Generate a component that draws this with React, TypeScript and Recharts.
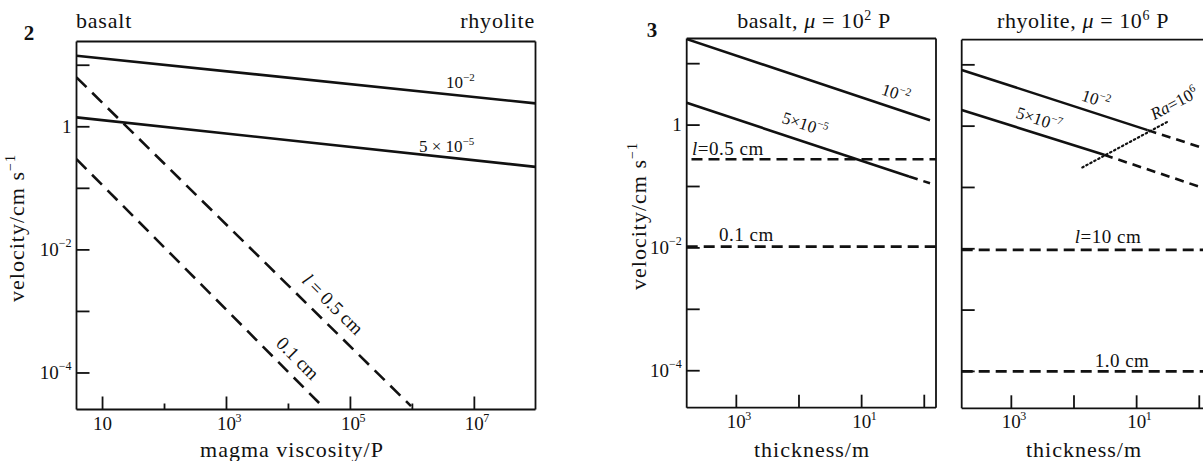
import { LineChart, Line, XAxis, YAxis } from 'recharts';

const FONT = "'Liberation Serif', 'Times New Roman', serif";
const INK = '#111';

// fig 2: velocity vs magma viscosity
const viscDomain = [3.8, 9.7e7];
const vel2Domain = [2.55e-5, 24.3];
const viscTicks = [10, 1e2, 1e3, 1e4, 1e5, 1e6, 1e7];
const viscTickLabels = ['10', '', '10^3', '', '10^5', '', '10^7'];
const velTicks = [10, 1, 0.1, 0.01, 1e-3, 1e-4];
const velTickLabels = ['', '1', '', '10^\u22122', '', '10^\u22124'];

const viscEnds = [3.8, 9.7e7];
const velGrad2 = [14.3, 2.4]; // 10^-2
const velGrad5 = [1.42, 0.223]; // 5 x 10^-5
const viscL05 = [3.8, 9.5e5];
const velL05 = [6.35, 2.9e-5];
const viscL01 = [3.8, 3.5e4];
const velL01 = [0.298, 2.9e-5];

// fig 3: velocity vs thickness (basalt, rhyolite)
const thickDomain = [0.65, 6200];
const vel3Domain = [2.5e-5, 25.7];
const thickTicks = [1e3, 1e2, 10, 1];
const thickTickLabels = ['10^3', '', '10^1', ''];
const noLabels = ['', '', '', '', '', ''];

const thickB2 = [6200, 0.81];
const velB2 = [25.1, 1.2];
const thickB5 = [6200, 1.75];
const velB5 = [2.31, 0.145];
const thickB5Dash = [1.75, 0.81];
const velB5Dash = [0.145, 0.113];
const thickBL05 = [5200, 0.65];
const velBL05 = [0.277, 0.277];
const thickBL01 = [6200, 0.65];
const velBL01 = [0.0105, 0.0105];

const thickR2 = [6200, 6.68];
const velR2 = [8.26, 0.861];
const thickR2Dash = [6.68, 0.81];
const velR2Dash = [0.861, 0.43];
const thickR7 = [6200, 33.1];
const velR7 = [1.84, 0.341];
const thickR7Dash = [33.1, 1.0];
const velR7Dash = [0.341, 0.103];
const thickRa = [73.6, 3.01];
const velRa = [0.212, 1.22];
const thickRL = [6200, 0.65];
const velRL10 = [0.0096, 0.0096];
const velRL1 = [1e-4, 1e-4];

const pts = (xs: number[], ys: number[]) => xs.map((x, i) => ({ x, y: ys[i] }));

type Series = { data: { x: number; y: number }[]; dash?: string; dotted?: boolean };

const splitSup = (s: string) => s.split('^');

function Panel(props: any) {
  const { width, height, plot, xDomain, yDomain, xTicks, xLabels, minorLen, yTicks, yLabels, reversed, series } = props;
  // plot = [left, top, right, bottom] of the frame inside this chart
  const margin = {
    left: plot[0] - 1,
    top: plot[1] - 1,
    right: width - plot[2] - 1,
    bottom: height - plot[3] - 1,
  };

  const xTick = (p: any) => {
    const { x, y, payload } = p;
    const i = xTicks.indexOf(payload.value);
    const label = xLabels[i] || '';
    const len = label ? 13 : minorLen;
    const [base, sup] = splitSup(label);
    return (
      <g>
        <line x1={x} y1={y} x2={x} y2={y - len} stroke={INK} strokeWidth={1.8} />
        {label && (
          <text x={x} y={y + 20} textAnchor="middle" fontSize={19} fontFamily={FONT} fill={INK}>
            {base}
          </text>
        )}
        {sup && (
          <text x={x + 9} y={y + 12} fontSize={12} fontFamily={FONT} fill={INK}>
            {sup}
          </text>
        )}
      </g>
    );
  };

  const yTick = (p: any) => {
    const { x, y, payload } = p;
    const i = yTicks.indexOf(payload.value);
    const label = yLabels[i] || '';
    const [base, sup] = splitSup(label);
    return (
      <g>
        <line x1={x} y1={y} x2={x + 13} y2={y} stroke={INK} strokeWidth={1.8} />
        {label && (
          <text x={x - 5} y={y + 6} textAnchor="end" fontSize={19} fontFamily={FONT} fill={INK}>
            {base}
            {sup && (
              <tspan dy={-9} fontSize={12}>
                {sup}
              </tspan>
            )}
          </text>
        )}
      </g>
    );
  };

  const frame = { stroke: INK, strokeWidth: 1.8 };

  return (
    <LineChart width={width} height={height} margin={margin}>
      <XAxis
        dataKey="x"
        type="number"
        scale="log"
        domain={xDomain}
        allowDataOverflow
        reversed={reversed}
        ticks={xTicks}
        interval={0}
        tickLine={false}
        tickSize={0}
        tickMargin={0}
        height={1}
        axisLine={frame}
        tick={xTick}
      />
      <XAxis
        xAxisId="top"
        orientation="top"
        type="number"
        scale="log"
        domain={xDomain}
        allowDataOverflow
        tick={false}
        tickLine={false}
        height={1}
        axisLine={frame}
      />
      <YAxis
        dataKey="y"
        type="number"
        scale="log"
        domain={yDomain}
        allowDataOverflow
        ticks={yTicks}
        interval={0}
        tickLine={false}
        tickSize={0}
        tickMargin={0}
        width={1}
        axisLine={frame}
        tick={yTick}
      />
      <YAxis
        yAxisId="right"
        orientation="right"
        type="number"
        scale="log"
        domain={yDomain}
        allowDataOverflow
        tick={false}
        tickLine={false}
        width={1}
        axisLine={frame}
      />
      {series.map((s: Series, i: number) => (
        <Line
          key={i}
          data={s.data}
          dataKey="y"
          type="linear"
          stroke={INK}
          strokeWidth={s.dotted ? 2.2 : 2.6}
          strokeDasharray={s.dotted ? '1.5 3' : s.dash}
          strokeLinecap={s.dotted ? 'round' : 'butt'}
          dot={false}
          activeDot={false}
          isAnimationActive={false}
        />
      ))}
    </LineChart>
  );
}

const series2: Series[] = [
  { data: pts(viscEnds, velGrad2) },
  { data: pts(viscEnds, velGrad5) },
  { data: pts(viscL05, velL05), dash: '14 8' },
  { data: pts(viscL01, velL01), dash: '14 8' },
];

const seriesB: Series[] = [
  { data: pts(thickB2, velB2) },
  { data: pts(thickB5, velB5) },
  { data: pts(thickB5Dash, velB5Dash), dash: '9 6' },
  { data: pts(thickBL05, velBL05), dash: '11 6' },
  { data: pts(thickBL01, velBL01), dash: '11 6' },
];

const seriesR: Series[] = [
  { data: pts(thickR2, velR2) },
  { data: pts(thickR2Dash, velR2Dash), dash: '9 6' },
  { data: pts(thickR7, velR7) },
  { data: pts(thickR7Dash, velR7Dash), dash: '9 6' },
  { data: pts(thickRa, velRa), dotted: true },
  { data: pts(thickRL, velRL10), dash: '11 6' },
  { data: pts(thickRL, velRL1), dash: '11 6' },
];

const T = (p: any) => <text fontFamily={FONT} fill={INK} {...p} />;

const Rot = ({ cx, cy, a, size, children }: any) => (
  <text
    transform={`translate(${cx},${cy}) rotate(${a})`}
    textAnchor="middle"
    dy="0.35em"
    fontSize={size}
    fontFamily={FONT}
    fill={INK}
  >
    {children}
  </text>
);

export default function App() {
  return (
    <div style={{ position: 'absolute', left: 0, top: 0, width: 1203, height: 461, overflow: 'hidden', background: '#fff' }}>
      <div style={{ position: 'absolute', left: 0, top: 0 }}>
        <Panel
          width={560}
          height={461}
          plot={[76.5, 41.5, 535.5, 409.5]}
          xDomain={viscDomain}
          yDomain={vel2Domain}
          xTicks={viscTicks}
          xLabels={viscTickLabels}
          minorLen={6}
          yTicks={velTicks}
          yLabels={velTickLabels}
          series={series2}
        />
      </div>
      <div style={{ position: 'absolute', left: 600, top: 0 }}>
        <Panel
          width={350}
          height={461}
          plot={[86.7, 38.5, 336, 407.7]}
          xDomain={thickDomain}
          yDomain={vel3Domain}
          xTicks={thickTicks}
          xLabels={thickTickLabels}
          minorLen={13}
          yTicks={velTicks}
          yLabels={velTickLabels}
          reversed
          series={seriesB}
        />
      </div>
      <div style={{ position: 'absolute', left: 950, top: 0 }}>
        <Panel
          width={280}
          height={461}
          plot={[11.7, 39.7, 261, 408.3]}
          xDomain={thickDomain}
          yDomain={vel3Domain}
          xTicks={thickTicks}
          xLabels={thickTickLabels}
          minorLen={13}
          yTicks={velTicks}
          yLabels={noLabels}
          reversed
          series={seriesR}
        />
      </div>

      <svg width={1203} height={461} style={{ position: 'absolute', left: 0, top: 0, pointerEvents: 'none' }}>
        {/* fig 2 */}
        <T x={29} y={40} textAnchor="middle" fontSize={21} fontWeight="bold">2</T>
        <T x={76} y={28} fontSize={22} letterSpacing={0.8}>basalt</T>
        <T x={535} y={28} fontSize={22} letterSpacing={0.8} textAnchor="end">rhyolite</T>
        <T transform="translate(24,228) rotate(-90)" textAnchor="middle" fontSize={22} letterSpacing={1}>
          velocity/cm s<tspan dy={-9} fontSize={14}>{'\u22121'}</tspan>
        </T>
        <T x={292} y={457} textAnchor="middle" fontSize={22} letterSpacing={1}>magma viscosity/P</T>
        <T x={446} y={88} fontSize={17}>
          10<tspan dy={-7} fontSize={11}>{'\u22122'}</tspan>
        </T>
        <T x={419} y={152} fontSize={17}>
          5 {'\u00d7'} 10<tspan dy={-7} fontSize={11}>{'\u22125'}</tspan>
        </T>
        <Rot cx={333} cy={304} a={45} size={19}>
          <tspan fontStyle="italic">l</tspan> = 0.5 cm
        </Rot>
        <Rot cx={298} cy={358} a={45} size={19}>0.1 cm</Rot>

        {/* fig 3 */}
        <T x={652} y={37} textAnchor="middle" fontSize={21} fontWeight="bold">3</T>
        <T x={814} y={28} textAnchor="middle" fontSize={22} letterSpacing={0.6}>
          basalt, <tspan fontStyle="italic">{'\u03bc'}</tspan> = 10<tspan dy={-8} fontSize={14}>2</tspan>
          <tspan dy={8}> P</tspan>
        </T>
        <T x={1083} y={28} textAnchor="middle" fontSize={22} letterSpacing={0.6}>
          rhyolite, <tspan fontStyle="italic">{'\u03bc'}</tspan> = 10<tspan dy={-8} fontSize={14}>6</tspan>
          <tspan dy={8}> P</tspan>
        </T>
        <T transform="translate(646,216) rotate(-90)" textAnchor="middle" fontSize={22} letterSpacing={1}>
          velocity/cm s<tspan dy={-9} fontSize={14}>{'\u22121'}</tspan>
        </T>
        <T x={812} y={457} textAnchor="middle" fontSize={22} letterSpacing={1}>thickness/m</T>
        <T x={1084} y={457} textAnchor="middle" fontSize={22} letterSpacing={1}>thickness/m</T>

        <Rot cx={896} cy={93} a={18} size={17}>
          10<tspan dy={-7} fontSize={11}>{'\u22122'}</tspan>
        </Rot>
        <Rot cx={805} cy={124} a={18} size={17}>
          5{'\u00d7'}10<tspan dy={-7} fontSize={11}>{'\u22125'}</tspan>
        </Rot>
        <T x={692} y={155} fontSize={19} letterSpacing={0.5}>
          <tspan fontStyle="italic">l</tspan>=0.5 cm
        </T>
        <T x={719} y={241} fontSize={19} letterSpacing={0.5}>0.1 cm</T>

        <Rot cx={1096} cy={99} a={18} size={17}>
          10<tspan dy={-7} fontSize={11}>{'\u22122'}</tspan>
        </Rot>
        <Rot cx={1039} cy={119} a={18} size={17}>
          5{'\u00d7'}10<tspan dy={-7} fontSize={11}>{'\u22127'}</tspan>
        </Rot>
        <Rot cx={1174} cy={103} a={-28} size={17}>
          <tspan fontStyle="italic">Ra</tspan>=10<tspan dy={-7} fontSize={11}>6</tspan>
        </Rot>
        <T x={1108} y={243} textAnchor="middle" fontSize={19} letterSpacing={0.5}>
          <tspan fontStyle="italic">l</tspan>=10 cm
        </T>
        <T x={1122} y={367} textAnchor="middle" fontSize={19} letterSpacing={0.5}>1.0 cm</T>
      </svg>
    </div>
  );
}
